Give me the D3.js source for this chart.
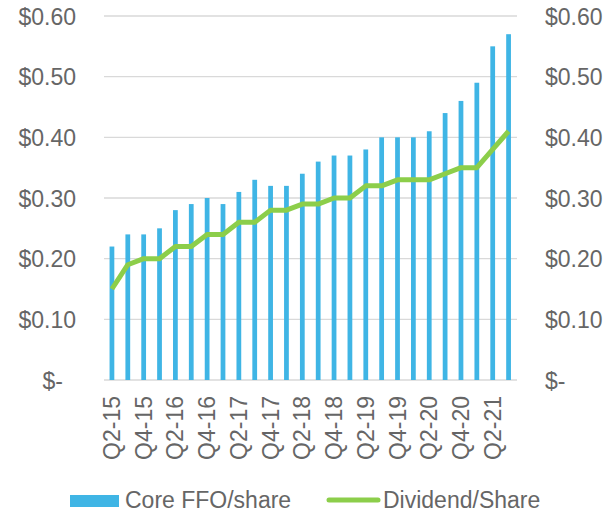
<!DOCTYPE html>
<html>
<head>
<meta charset="utf-8">
<script src="https://cdn.jsdelivr.net/npm/d3@7"></script>
<style>
  body { margin: 0; background: #fff; }
  text { font-family: "Liberation Sans", Arial, sans-serif; fill: #666; }
</style>
</head>
<body>
<div class="chart"></div>
<script>
// data
const quarters = ['Q2-15', 'Q3-15', 'Q4-15',
    'Q1-16', 'Q2-16', 'Q3-16', 'Q4-16',
    'Q1-17', 'Q2-17', 'Q3-17', 'Q4-17',
    'Q1-18', 'Q2-18', 'Q3-18', 'Q4-18',
    'Q1-19', 'Q2-19', 'Q3-19', 'Q4-19',
    'Q1-20', 'Q2-20', 'Q3-20', 'Q4-20',
    'Q1-21', 'Q2-21', 'Q3-21'];
const coreFFO = [0.22, 0.24, 0.24, 0.25, 0.28, 0.29, 0.30, 0.29, 0.31, 0.33, 0.32, 0.32, 0.34,
    0.36, 0.37, 0.37, 0.38, 0.40, 0.40, 0.40, 0.41, 0.44, 0.46, 0.49, 0.55, 0.57];
const dividend = [0.15, 0.19, 0.20, 0.20, 0.22, 0.22, 0.24, 0.24, 0.26, 0.26, 0.28, 0.28, 0.29,
    0.29, 0.30, 0.30, 0.32, 0.32, 0.33, 0.33, 0.33, 0.34, 0.35, 0.35, 0.38, 0.41];
const yTicks = [0, 0.1, 0.2, 0.3, 0.4, 0.5, 0.6];
const seriesNames = ['Core FFO/share', 'Dividend/Share'];

const width = 603, height = 512;
const margin = { top: 16, right: 86, bottom: 132, left: 104 };
const blue = '#3fb5e5', green = '#8cce4a';

const svg = d3.select('.chart').append('svg')
    .attr('width', width).attr('height', height);

const x = d3.scaleBand().domain(quarters)
    .range([margin.left, width - margin.right - 0.5]).paddingInner(0.7).paddingOuter(0.35);
const y = d3.scaleLinear([0, 0.6], [height - margin.bottom, margin.top]);

const fmt = d => d === 0 ? '$-' : '$' + d3.format('.2f')(d);

// grid
svg.append('g').selectAll('line').data(yTicks).join('line')
    .attr('x1', margin.left).attr('x2', width - margin.right)
    .attr('y1', d => y(d)).attr('y2', d => y(d))
    .style('stroke', '#d9d9d9').style('stroke-width', 1.4);

// left axis
const leftAxis = d3.axisLeft(y).tickValues(yTicks).tickFormat(fmt).tickSize(0).tickPadding(28);
svg.append('g').attr('transform', `translate(${margin.left},0)`).call(leftAxis)
    .call(g => g.select('.domain').remove())
    .call(g => g.selectAll('text').style('font-size', '23px').style('fill', '#666')
        .attr('dy', '0.35em').attr('dx', d => d === 0 ? -13 : 0));

// right axis
const rightAxis = d3.axisRight(y).tickValues(yTicks).tickFormat(fmt).tickSize(0).tickPadding(28);
svg.append('g').attr('transform', `translate(${width - margin.right},0)`).call(rightAxis)
    .call(g => g.select('.domain').remove())
    .call(g => g.selectAll('text').style('font-size', '23px').style('fill', '#666')
        .attr('dy', '0.35em'));

// bars
svg.append('g').selectAll('rect').data(coreFFO).join('rect')
    .attr('x', (d, i) => x(quarters[i]))
    .attr('y', d => y(d))
    .attr('width', x.bandwidth())
    .attr('height', d => y(0) - y(d))
    .style('fill', blue);

// line
const line = d3.line()
    .x((d, i) => x(quarters[i]) + x.bandwidth() / 2)
    .y(d => y(d));
svg.append('path').datum(dividend)
    .attr('d', line)
    .style('fill', 'none').style('stroke', green).style('stroke-width', 5)
    .style('stroke-linejoin', 'round');

// x labels (every other quarter)
const xAxis = d3.axisBottom(x).tickValues(quarters.filter((d, i) => i % 2 === 0)).tickSize(0);
svg.append('g').attr('transform', `translate(0,${y(0)})`).call(xAxis)
    .call(g => g.select('.domain').remove())
    .call(g => g.selectAll('text')
        .style('font-size', '23px').style('fill', '#666')
        .attr('text-anchor', 'end')
        .attr('transform', 'rotate(-90)')
        .attr('x', -16).attr('y', 0).attr('dy', '0.35em'));

// legend
const legend = svg.append('g');
legend.append('rect').attr('x', 70).attr('y', 495).attr('width', 49).attr('height', 12)
    .style('fill', blue);
legend.append('text').attr('x', 125).attr('y', 508).text(seriesNames[0])
    .style('font-size', '23px');
legend.append('line').attr('x1', 329).attr('x2', 378).attr('y1', 500).attr('y2', 500)
    .style('stroke', green).style('stroke-width', 5).style('stroke-linecap', 'round');
legend.append('text').attr('x', 383).attr('y', 508).text(seriesNames[1])
    .style('font-size', '23px');
</script>
</body>
</html>
